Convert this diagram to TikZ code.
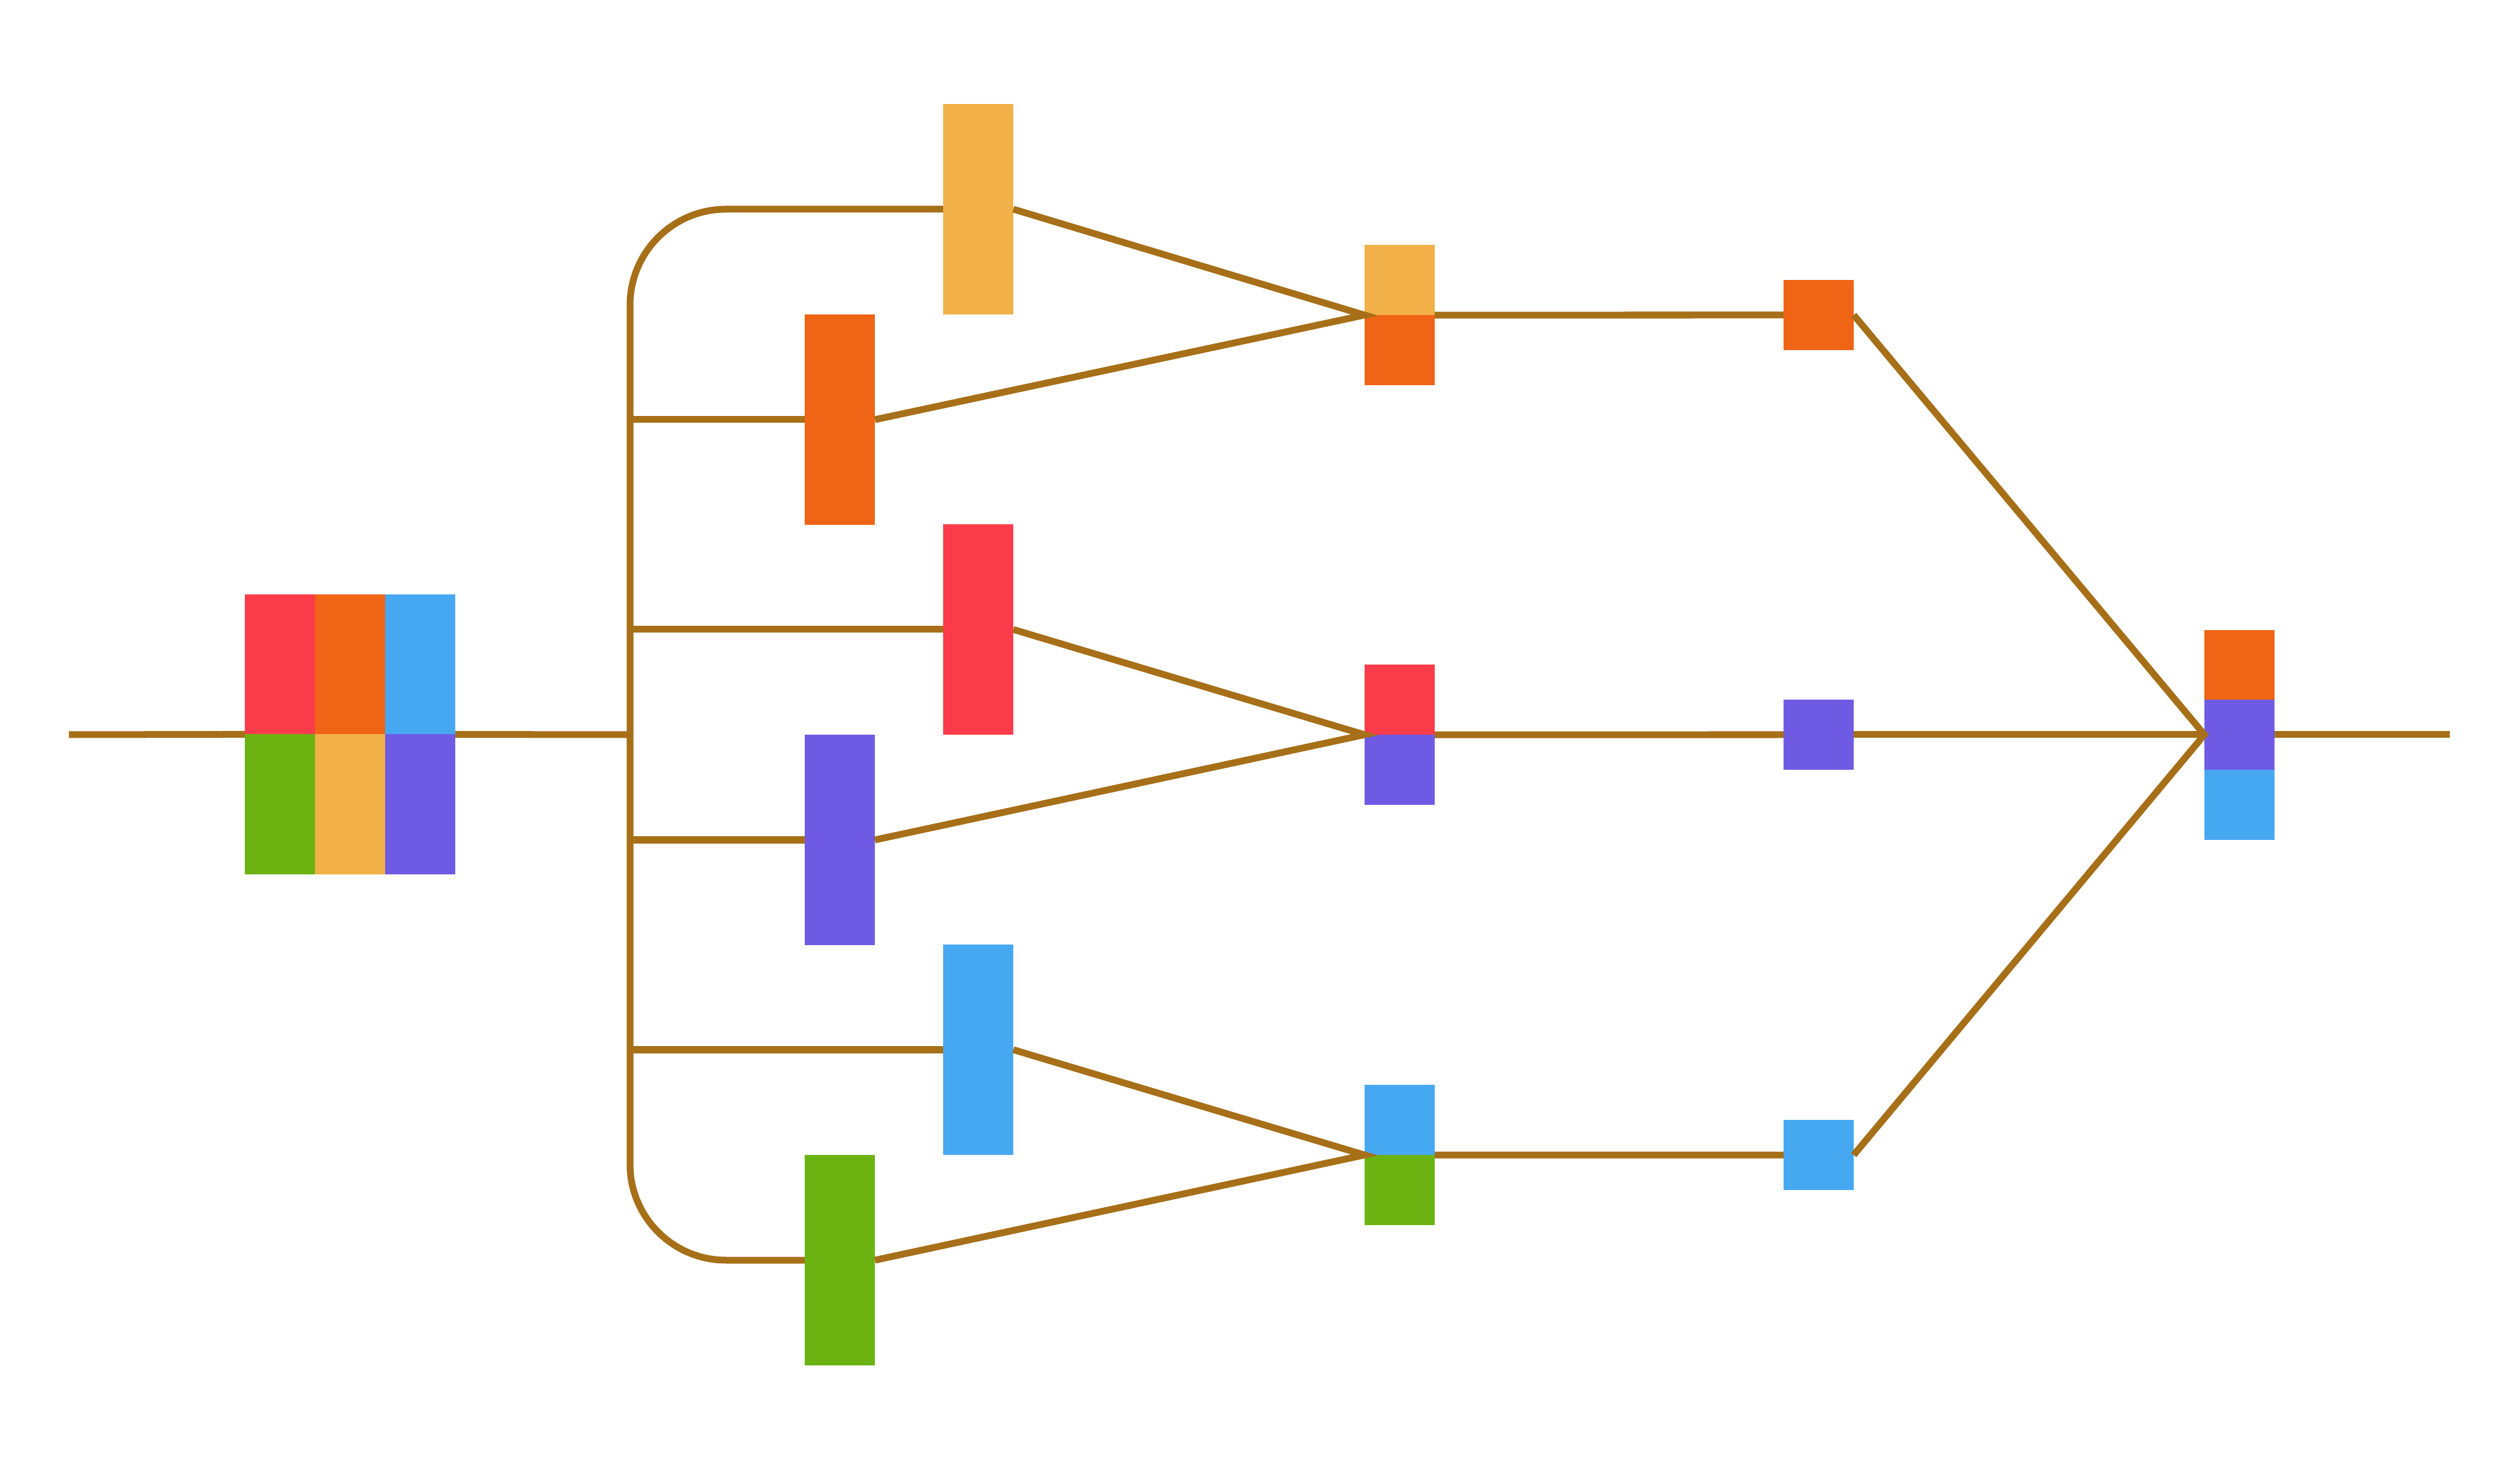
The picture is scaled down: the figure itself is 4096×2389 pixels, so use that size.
\documentclass[tikz,border=0pt]{standalone}
\definecolor{wire}{HTML}{A66F18}
\definecolor{cred}{HTML}{FA3C4A}
\definecolor{corange}{HTML}{F06415}
\definecolor{clight}{HTML}{F2B048}
\definecolor{cblue}{HTML}{47A8F2}
\definecolor{cgreen}{HTML}{6CB312}
\definecolor{cpurple}{HTML}{6F5BE3}
\tikzset{
  cell/.style = {inner sep=0, outer sep=0, minimum width=1.14cm, minimum height=2.27cm},
  bar/.style = {inner sep=0, outer sep=0, minimum width=1.14cm, minimum height=3.41cm},
  sq/.style = {inner sep=0, outer sep=0, minimum width=1.14cm, minimum height=1.14cm},
  wire/.style = {draw=wire, line width=0.11cm}
}
\begin{document}
\begin{tikzpicture}[x=0.01cm, y=-0.01cm]
\useasboundingbox (0,0) rectangle (4096,2389);

\begin{scope}
\node[cell, fill=cred] (c11) at (455,1080) {};
\node[cell, fill=corange] (c12) at (569,1080) {};
\node[cell, fill=cblue] (c13) at (683,1080) {};
\node[cell, fill=cgreen] (c21) at (455,1307) {};
\node[cell, fill=clight] (c22) at (569,1307) {};
\node[cell, fill=cpurple] (c23) at (683,1307) {};
\end{scope}

\coordinate (in) at (112,1194);
\coordinate (busT) at (1024,340);
\coordinate (busB) at (1024,2048);
\coordinate (out) at (3982,1194);

\begin{scope}
\node[bar, fill=clight] (ybar) at (1590,340) {};
\node[bar, fill=corange] (obar) at (1365,682) {};
\node[bar, fill=cred] (rbar) at (1590,1023) {};
\node[bar, fill=cpurple] (pbar) at (1365,1365) {};
\node[bar, fill=cblue] (bbar) at (1590,1706) {};
\node[bar, fill=cgreen] (gbar) at (1365,2048) {};
\end{scope}

\begin{scope}
\node[sq, fill=clight] (m1a) at (2275,455) {};
\node[sq, fill=corange] (m1b) at (2275,569) {};
\node[sq, fill=cred] (m2a) at (2275,1137) {};
\node[sq, fill=cpurple] (m2b) at (2275,1251) {};
\node[sq, fill=cblue] (m3a) at (2275,1820) {};
\node[sq, fill=cgreen] (m3b) at (2275,1934) {};
\end{scope}

\node[sq, fill=corange] (s1) at (2956,512) {};
\node[sq, fill=cpurple] (s2) at (2956,1194) {};
\node[sq, fill=cblue] (s3) at (2956,1877) {};

\node[sq, fill=corange] (f1) at (3640,1081) {};
\node[sq, fill=cpurple] (f2) at (3640,1194) {};
\node[sq, fill=cblue] (f3) at (3640,1308) {};

\draw[wire] (in) -- (c21.north west);
\draw[wire] (c13.south east) -- (busT |- in);
\draw[wire, rounded corners=1.56cm] (ybar.west) -- (busT) -- (busB) -- (gbar.west);
\draw[wire] (obar.west) -- (obar.west -| busT);
\draw[wire] (rbar.west) -- (rbar.west -| busT);
\draw[wire] (pbar.west) -- (pbar.west -| busT);
\draw[wire] (bbar.west) -- (bbar.west -| busT);

\draw[wire] (ybar.east) -- (m1a.south west) -- (obar.east);
\draw[wire] (rbar.east) -- (m2a.south west) -- (pbar.east);
\draw[wire] (bbar.east) -- (m3a.south west) -- (gbar.east);

\draw[wire] (m1a.south east) -- (s1.west);
\draw[wire] (m2a.south east) -- (s2.west);
\draw[wire] (m3a.south east) -- (s3.west);

\draw[wire] (s1.east) -- (f2.west) -- (s3.east);
\draw[wire] (s2.east) -- (f2.west);
\draw[wire] (f2.east) -- (out);
\end{tikzpicture}
\end{document}
